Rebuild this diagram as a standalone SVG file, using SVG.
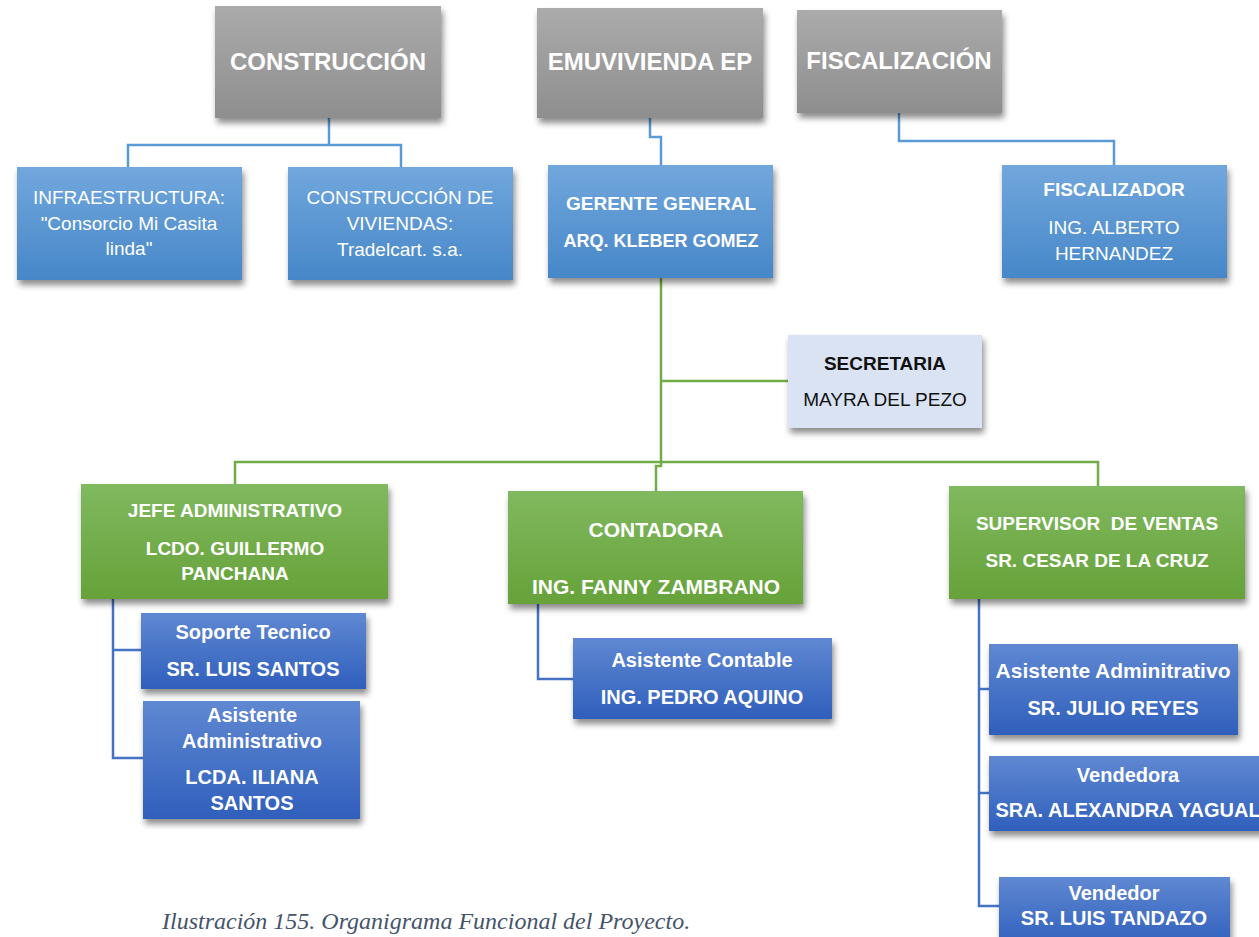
<svg xmlns="http://www.w3.org/2000/svg" width="1259" height="937" viewBox="0 0 1259 937">
  <defs>
    <linearGradient id="gGray" x1="0" y1="0" x2="0" y2="1">
      <stop offset="0" stop-color="#ababab"/>
      <stop offset="1" stop-color="#8e8e8e"/>
    </linearGradient>
    <linearGradient id="gSky" x1="0" y1="0" x2="0" y2="1">
      <stop offset="0" stop-color="#72a7dd"/>
      <stop offset="1" stop-color="#4687c8"/>
    </linearGradient>
    <linearGradient id="gGreen" x1="0" y1="0" x2="0" y2="1">
      <stop offset="0" stop-color="#80b95f"/>
      <stop offset="1" stop-color="#66a239"/>
    </linearGradient>
    <linearGradient id="gBlue" x1="0" y1="0" x2="0" y2="1">
      <stop offset="0" stop-color="#6088d2"/>
      <stop offset="1" stop-color="#2f5fbc"/>
    </linearGradient>
    <filter id="shadow" x="-10%" y="-10%" width="125%" height="140%">
      <feDropShadow dx="2" dy="5" stdDeviation="3" flood-color="#000" flood-opacity="0.45"/>
    </filter>
  </defs>
  <style>
    text { font-family: "Liberation Sans", Arial, sans-serif; text-anchor: middle; fill: #fff; }
    .b { font-weight: bold; }
    .t0 { font-size: 24px; font-weight: bold; }
    .t19 { font-size: 19px; }
    .t20 { font-size: 20px; }
    .t21 { font-size: 21px; }
    .dark { fill: #111; }
    .box { filter: url(#shadow); }
    .lnSky { fill: none; stroke: #5b9bd5; stroke-width: 2.5; }
    .lnGreen { fill: none; stroke: #70ad47; stroke-width: 2.5; }
    .lnBlue { fill: none; stroke: #4472c4; stroke-width: 2.5; }
    .caption { font-family: "Liberation Serif", "Times New Roman", serif; font-style: italic; font-size: 24px; fill: #44546a; text-anchor: start; }
  </style>

  <rect width="1259" height="937" fill="#fff"/>

  <!-- connectors -->
  <g id="connectors">
    <path class="lnSky" d="M329 118 V145 M128 167 V145 H401 V167"/>
    <path class="lnSky" d="M650 118 V137 H661 V165"/>
    <path class="lnSky" d="M899 113 V141 H1114 V165"/>
    <path class="lnGreen" d="M661 278 V462 M661 381 H788"/>
    <path class="lnGreen" d="M235 484 V462 H661 M661 462 H1098 V486"/>
    <path class="lnGreen" d="M661 462 V466 H656 V491"/>
    <path class="lnBlue" d="M113 599 V758 H143 M113 650 H141"/>
    <path class="lnBlue" d="M538 604 V679 H573"/>
    <path class="lnBlue" d="M979 599 V906 H999 M979 689 H989 M979 793 H989"/>
  </g>

  <!-- top level -->
  <g id="construccion">
    <rect class="box" x="215" y="6" width="226" height="112" fill="url(#gGray)"/>
    <text class="t0" x="328" y="70">CONSTRUCCIÓN</text>
  </g>
  <g id="emuvivienda">
    <rect class="box" x="537" y="8" width="226" height="110" fill="url(#gGray)"/>
    <text class="t0" x="650" y="70">EMUVIVIENDA EP</text>
  </g>
  <g id="fiscalizacion">
    <rect class="box" x="797" y="10" width="205" height="103" fill="url(#gGray)"/>
    <text class="t0" x="899" y="69">FISCALIZACIÓN</text>
  </g>

  <!-- second level -->
  <g id="infraestructura">
    <rect class="box" x="17" y="167" width="225" height="113" fill="url(#gSky)"/>
    <text class="t19" x="129" y="204">INFRAESTRUCTURA:</text>
    <text class="t19" x="129" y="230">"Consorcio Mi Casita</text>
    <text class="t19" x="129" y="255">linda"</text>
  </g>
  <g id="construccion-viviendas">
    <rect class="box" x="288" y="167" width="225" height="113" fill="url(#gSky)"/>
    <text class="t19" x="400" y="204">CONSTRUCCIÓN DE</text>
    <text class="t19" x="400" y="230">VIVIENDAS:</text>
    <text class="t19" x="400" y="256">Tradelcart. s.a.</text>
  </g>
  <g id="gerente">
    <rect class="box" x="548" y="165" width="225" height="113" fill="url(#gSky)"/>
    <text class="t19 b" x="661" y="210">GERENTE GENERAL</text>
    <text class="b" style="font-size:18px" x="661" y="247">ARQ. KLEBER GOMEZ</text>
  </g>
  <g id="fiscalizador">
    <rect class="box" x="1002" y="165" width="225" height="113" fill="url(#gSky)"/>
    <text class="t19 b" x="1114" y="196">FISCALIZADOR</text>
    <text class="t19" x="1114" y="234">ING. ALBERTO</text>
    <text class="t19" x="1114" y="260">HERNANDEZ</text>
  </g>

  <g id="secretaria">
    <rect class="box" x="788" y="335" width="194" height="93" fill="#dae3f3"/>
    <text class="t19 b dark" x="885" y="370">SECRETARIA</text>
    <text class="t19 dark" x="885" y="406">MAYRA DEL PEZO</text>
  </g>

  <!-- department heads -->
  <g id="jefe-administrativo">
    <rect class="box" x="81" y="484" width="307" height="115" fill="url(#gGreen)"/>
    <text class="t19 b" x="235" y="517">JEFE ADMINISTRATIVO</text>
    <text class="t19 b" x="235" y="555">LCDO. GUILLERMO</text>
    <text class="t19 b" x="235" y="580">PANCHANA</text>
  </g>
  <g id="contadora">
    <rect class="box" x="508" y="491" width="295" height="113" fill="url(#gGreen)"/>
    <text class="t21 b" x="656" y="537">CONTADORA</text>
    <text class="t21 b" x="656" y="594">ING. FANNY ZAMBRANO</text>
  </g>
  <g id="supervisor-ventas">
    <rect class="box" x="949" y="486" width="296" height="113" fill="url(#gGreen)"/>
    <text class="t19 b" x="1097" y="530" xml:space="preserve">SUPERVISOR  DE VENTAS</text>
    <text class="t19 b" x="1097" y="567">SR. CESAR DE LA CRUZ</text>
  </g>

  <!-- staff -->
  <g id="soporte-tecnico">
    <rect class="box" x="141" y="613" width="225" height="76" fill="url(#gBlue)"/>
    <text class="t20 b" x="253" y="639">Soporte Tecnico</text>
    <text class="t20 b" x="253" y="676">SR. LUIS SANTOS</text>
  </g>
  <g id="asistente-administrativo">
    <rect class="box" x="143" y="701" width="217" height="118" fill="url(#gBlue)"/>
    <text class="t20 b" x="252" y="722">Asistente</text>
    <text class="t20 b" x="252" y="748">Administrativo</text>
    <text class="t20 b" x="252" y="784">LCDA. ILIANA</text>
    <text class="t20 b" x="252" y="810">SANTOS</text>
  </g>
  <g id="asistente-contable">
    <rect class="box" x="573" y="638" width="259" height="81" fill="url(#gBlue)"/>
    <text class="t20 b" x="702" y="667">Asistente Contable</text>
    <text class="t20 b" x="702" y="704">ING. PEDRO AQUINO</text>
  </g>
  <g id="asistente-ventas">
    <rect class="box" x="989" y="644" width="249" height="91" fill="url(#gBlue)"/>
    <text class="t21 b" x="1113" y="678">Asistente Adminitrativo</text>
    <text class="t20 b" x="1113" y="715">SR. JULIO REYES</text>
  </g>
  <g id="vendedora">
    <rect class="box" x="989" y="756" width="276" height="75" fill="url(#gBlue)"/>
    <text class="t20 b" x="1128" y="782">Vendedora</text>
    <text class="t20 b" x="1128" y="817">SRA. ALEXANDRA YAGUAL</text>
  </g>
  <g id="vendedor">
    <rect class="box" x="999" y="877" width="231" height="70" fill="url(#gBlue)"/>
    <text class="t20 b" x="1114" y="900">Vendedor</text>
    <text class="t20 b" x="1114" y="925">SR. LUIS TANDAZO</text>
  </g>

  <text class="caption" x="162" y="929">Ilustración 155. Organigrama Funcional del Proyecto.</text>
</svg>
